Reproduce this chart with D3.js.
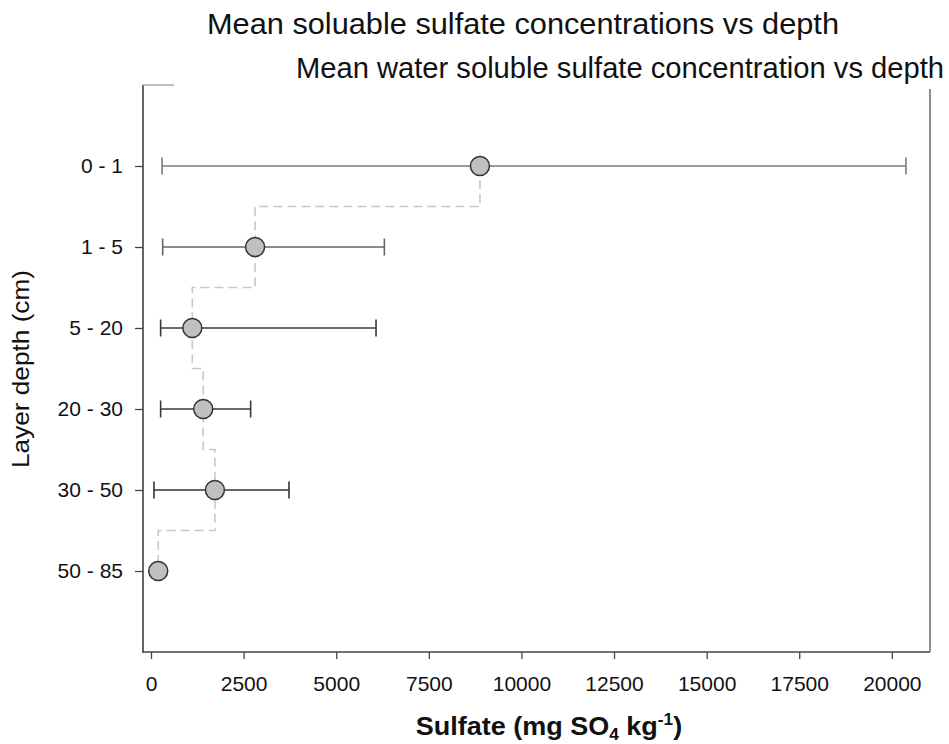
<!DOCTYPE html>
<html>
<head>
<meta charset="utf-8">
<script src="https://cdn.jsdelivr.net/npm/d3@7"></script>
<style>
  body { margin: 0; background: #fff; }
  text { font-family: "Liberation Sans", Arial, sans-serif; fill: #111; }
</style>
</head>
<body>
<div id="chart"></div>
<script>
// data
var depths = ["0 - 1", "1 - 5", "5 - 20", "20 - 30", "30 - 50", "50 - 85"];
var meanSulfate = [8880, 2810, 1115, 1410, 1725, 195];
var lowerSulfate = [300, 315, 260, 260, 80, null];
var upperSulfate = [20380, 6300, 6075, 2690, 3725, null];
var xTicks = [0, 2500, 5000, 7500, 10000, 12500, 15000, 17500, 20000];

var barColors = ["#7a7a7a", "#666", "#3a3a3a", "#3a3a3a", "#333", "#333"];

var W = 949, H = 744;
var plot = { left: 143, right: 930, top: 85, bottom: 652 };

var svg = d3.select("#chart").append("svg")
    .attr("width", W)
    .attr("height", H);

var x = d3.scaleLinear().domain([-216, 21030]).range([plot.left, plot.right]);
var y = d3.scalePoint().domain(["_top"].concat(depths, ["_bot"])).range([plot.top, plot.bottom]);

var rows = depths.map(function (d, i) {
  return { depth: d, mean: meanSulfate[i], lo: lowerSulfate[i], hi: upperSulfate[i], color: barColors[i] };
});

// titles
svg.append("text")
    .attr("x", 207).attr("y", 34)
    .attr("font-size", 29)
    .attr("textLength", 632).attr("lengthAdjust", "spacingAndGlyphs")
    .text("Mean soluable sulfate concentrations vs depth");

svg.append("text")
    .attr("x", 296).attr("y", 78)
    .attr("font-size", 29)
    .attr("textLength", 648).attr("lengthAdjust", "spacingAndGlyphs")
    .text("Mean water soluble sulfate concentration vs depth");

// frame
svg.append("line").attr("x1", plot.left).attr("x2", plot.left).attr("y1", plot.top).attr("y2", plot.bottom + 1)
    .attr("stroke", "#333").attr("stroke-width", 1.5);
svg.append("line").attr("x1", plot.left).attr("x2", 174).attr("y1", plot.top).attr("y2", plot.top)
    .attr("stroke", "#999").attr("stroke-width", 1.3);
svg.append("line").attr("x1", plot.right).attr("x2", plot.right).attr("y1", 89).attr("y2", plot.bottom)
    .attr("stroke", "#555").attr("stroke-width", 1.3);
svg.append("line").attr("x1", plot.left).attr("x2", plot.right).attr("y1", plot.bottom).attr("y2", plot.bottom)
    .attr("stroke", "#444").attr("stroke-width", 1.5);

// axes
var xAxis = d3.axisBottom(x).tickValues(xTicks).tickSize(7).tickPadding(17).tickFormat(d3.format("d"));
var gx = svg.append("g").attr("transform", "translate(0," + plot.bottom + ")").call(xAxis);
gx.select(".domain").remove();
gx.selectAll("line").attr("stroke", "#444").attr("stroke-width", 1.3);
gx.selectAll("text").attr("font-size", 21).attr("fill", "#111")
    .attr("font-family", "Liberation Sans, Arial, sans-serif");

var yAxis = d3.axisLeft(y).tickValues(depths).tickSize(8).tickPadding(12);
var gy = svg.append("g").attr("transform", "translate(" + plot.left + ",0)").call(yAxis);
gy.select(".domain").remove();
gy.selectAll("line").attr("stroke", "#444").attr("stroke-width", 1.3);
gy.selectAll("text").attr("font-size", 21).attr("fill", "#111")
    .attr("font-family", "Liberation Sans, Arial, sans-serif");

// axis titles
svg.append("text")
    .attr("transform", "translate(29,369) rotate(-90)")
    .attr("text-anchor", "middle")
    .attr("font-size", 24)
    .attr("textLength", 198).attr("lengthAdjust", "spacingAndGlyphs")
    .text("Layer depth (cm)");

var xt = svg.append("g").attr("transform", "translate(549,735) scale(1.08,1)")
  .append("text")
    .attr("text-anchor", "middle")
    .attr("font-size", 25)
    .attr("font-weight", "bold");
xt.append("tspan").text("Sulfate (mg SO");
xt.append("tspan").attr("font-size", 16).attr("dy", 5).text("4");
xt.append("tspan").attr("dy", -5).text(" kg");
xt.append("tspan").attr("font-size", 16).attr("dy", -10).text("-1");
xt.append("tspan").attr("dy", 10).text(")");

// step line connecting the means
var pts = [];
rows.forEach(function (r, i) {
  pts.push([x(r.mean), y(r.depth)]);
  if (i < rows.length - 1) {
    var ymid = (y(r.depth) + y(rows[i + 1].depth)) / 2;
    pts.push([x(r.mean), ymid]);
    pts.push([x(rows[i + 1].mean), ymid]);
  }
});
svg.append("path")
    .attr("d", d3.line()(pts))
    .attr("fill", "none")
    .attr("stroke", "#c8c8c8")
    .attr("stroke-width", 1.6)
    .attr("stroke-dasharray", "9,5");

// error bars
var bars = svg.append("g").selectAll("g.bar")
    .data(rows.filter(function (r) { return r.lo !== null; }))
    .enter().append("g").attr("class", "bar");

bars.append("line")
    .attr("x1", function (d) { return x(d.lo); })
    .attr("x2", function (d) { return x(d.hi); })
    .attr("y1", function (d) { return y(d.depth); })
    .attr("y2", function (d) { return y(d.depth); })
    .attr("stroke", function (d) { return d.color; })
    .attr("stroke-width", 1.6);

["lo", "hi"].forEach(function (k) {
  bars.append("line")
      .attr("x1", function (d) { return x(d[k]); })
      .attr("x2", function (d) { return x(d[k]); })
      .attr("y1", function (d) { return y(d.depth) - 8.5; })
      .attr("y2", function (d) { return y(d.depth) + 8.5; })
      .attr("stroke", function (d) { return d.color; })
      .attr("stroke-width", 1.6);
});

// mean points
svg.append("g").selectAll("circle")
    .data(rows)
    .enter().append("circle")
    .attr("cx", function (d) { return x(d.mean); })
    .attr("cy", function (d) { return y(d.depth); })
    .attr("r", 9.5)
    .attr("fill", "#c0c0c0")
    .attr("stroke", "#333")
    .attr("stroke-width", 1.5);
</script>
</body>
</html>
